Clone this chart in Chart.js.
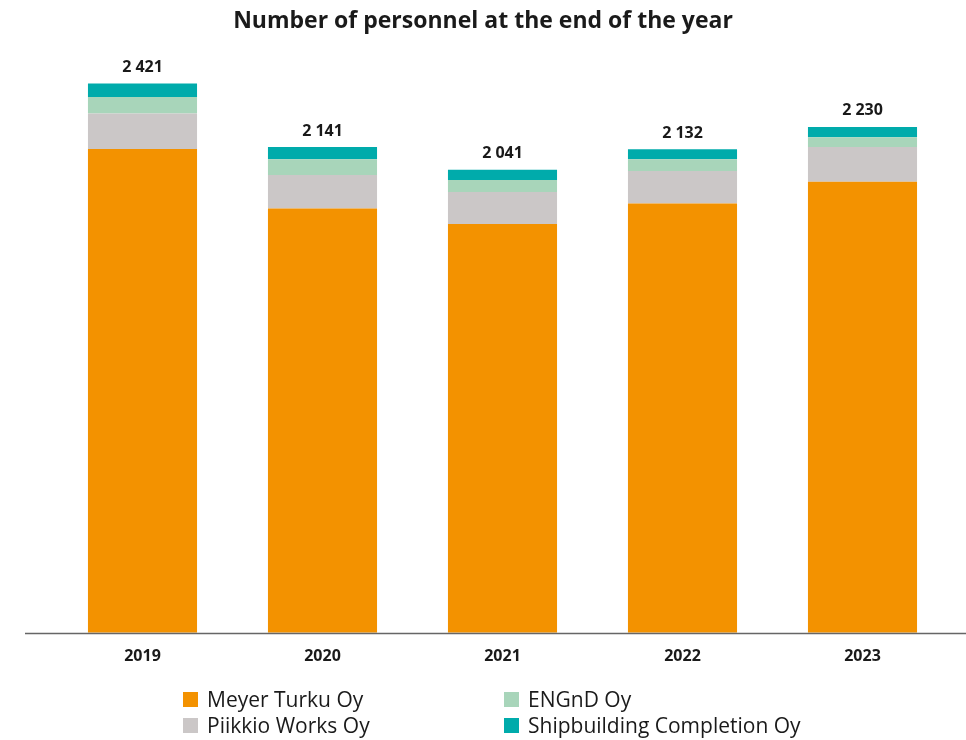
<!DOCTYPE html>
<html>
<head>
<meta charset="utf-8">
<script src="https://cdn.jsdelivr.net/npm/chart.js@4"></script>
<style>
  html, body { margin: 0; padding: 0; background: #fff; }
  body { width: 966px; height: 740px; position: relative; overflow: hidden; font-family: "Open Sans", sans-serif; }
  #wrap { position: absolute; left: 0; top: 0; width: 966px; height: 740px; }
  #title { position: absolute; left: 0; top: 3px; width: 966px; text-align: center; font-weight: 700; font-size: 23px; color: #1a1a1a; }
  .legend-item { position: absolute; display: flex; align-items: center; font-size: 21px; color: #1a1a1a; white-space: nowrap; }
  .legend-box { width: 15px; height: 15px; margin-right: 9px; }
</style>
</head>
<body>
<div id="wrap"><canvas id="chart" width="966" height="740"></canvas></div>
<div id="title">Number of personnel at the end of the year</div>
<div id="legend"></div>
<script>
const years       = ['2019', '2020', '2021', '2022', '2023'];
const meyerTurku  = [2133, 1870, 1802, 1892, 1988];
const piikkio     = [156, 148, 141, 144, 153];
const engnd       = [73, 69, 53, 51, 44];
const shipCompl   = [59, 54, 45, 45, 45];
const totals      = [2421, 2141, 2041, 2132, 2230];

const seriesNames  = ['Meyer Turku Oy', 'Piikkio Works Oy', 'ENGnD Oy', 'Shipbuilding Completion Oy'];
const seriesColors = ['#F39200', '#CBC7C7', '#A8D5BA', '#00ABAB'];

const fmt = n => String(n).replace(/\B(?=(\d{3})+(?!\d))/g, ' ');

const totalLabels = {
    id: 'totalLabels',
    afterDatasetsDraw(chart) {
        const ctx = chart.ctx;
        const top = chart.getDatasetMeta(chart.data.datasets.length - 1);
        ctx.save();
        ctx.font = 'bold 16px "Open Sans"';
        ctx.fillStyle = '#1a1a1a';
        ctx.textAlign = 'center';
        ctx.textBaseline = 'middle';
        top.data.forEach((bar, i) => {
            ctx.fillText(fmt(totals[i]), bar.x, bar.y - 16);
        });
        ctx.restore();
    }
};

const baseLine = {
    id: 'baseLine',
    afterDatasetsDraw(chart) {
        const ctx = chart.ctx;
        const y = chart.scales.y.getPixelForValue(0) + 0.75;
        ctx.save();
        ctx.strokeStyle = '#666666';
        ctx.lineWidth = 1.5;
        ctx.beginPath();
        ctx.moveTo(25, y);
        ctx.lineTo(966, y);
        ctx.stroke();
        ctx.restore();
    }
};

const seriesData = [meyerTurku, piikkio, engnd, shipCompl];

const chart = new Chart(document.getElementById('chart'), {
    type: 'bar',
    data: {
        labels: years,
        datasets: seriesData.map((d, i) => ({
            label: seriesNames[i],
            data: d,
            backgroundColor: seriesColors[i],
            borderWidth: 0,
            barPercentage: 0.606,
            categoryPercentage: 1
        }))
    },
    options: {
        responsive: false,
        animation: false,
        layout: { padding: { left: 52.5, right: 13.5, top: 43, bottom: 60 } },
        plugins: { legend: { display: false }, tooltip: { enabled: false }, title: { display: false } },
        scales: {
            x: {
                stacked: true,
                grid: { display: false, drawTicks: false },
                border: { display: false },
                ticks: { padding: 14, color: '#1a1a1a', font: { family: 'Open Sans', size: 16, weight: 'bold' } }
            },
            y: { stacked: true, display: false, min: 0, max: 2600 }
        }
    },
    plugins: [totalLabels, baseLine]
});

// legend in two columns, column-major order
const legendPos = [[183, 692], [183, 718], [504, 692], [504, 718]];
document.getElementById('legend').innerHTML = chart.data.datasets.map((ds, i) => `
    <div class="legend-item" style="left:${legendPos[i][0]}px; top:${legendPos[i][1] - 5}px; line-height:25px;">
        <span class="legend-box" style="background:${ds.backgroundColor}"></span>${ds.label}
    </div>
`).join('');
</script>
</body>
</html>
